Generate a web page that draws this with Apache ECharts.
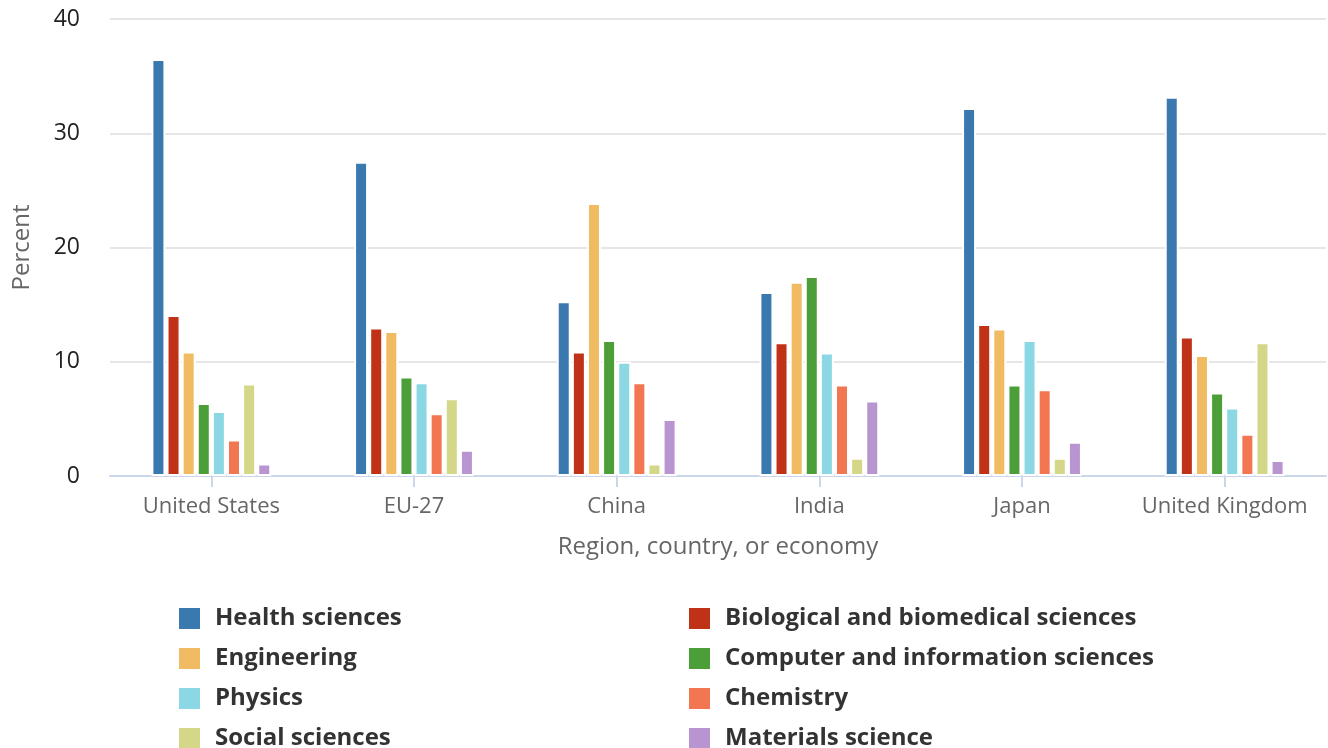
<!DOCTYPE html>
<html>
<head>
<meta charset="utf-8">
<script src="https://cdn.jsdelivr.net/npm/echarts@6/dist/echarts.min.js"></script>
<style>
html,body{margin:0;padding:0;background:#fff;}
#chart{width:1328px;height:748px;}
</style>
</head>
<body>
<div id="chart"></div>
<script>
const categories = ['United States', 'EU-27', 'China', 'India', 'Japan', 'United Kingdom'];
const seriesNames = ['Health sciences', 'Biological and biomedical sciences', 'Engineering', 'Computer and information sciences', 'Physics', 'Chemistry', 'Social sciences', 'Materials science'];
const healthSciences = [36.5, 27.5, 15.3, 16.1, 32.2, 33.2];
const biologicalSciences = [14.1, 13.0, 10.9, 11.7, 13.3, 12.2];
const engineering = [10.9, 12.7, 23.9, 17.0, 12.9, 10.6];
const computerSciences = [6.4, 8.7, 11.9, 17.5, 8.0, 7.3];
const physics = [5.7, 8.2, 10.0, 10.8, 11.9, 6.0];
const chemistry = [3.2, 5.5, 8.2, 8.0, 7.6, 3.7];
const socialSciences = [8.1, 6.8, 1.1, 1.6, 1.6, 11.7];
const materialsScience = [1.1, 2.3, 5.0, 6.6, 3.0, 1.4];
const yTicks = [0, 10, 20, 30, 40];

const colors = ['#3a78b0', '#c03217', '#f0bb62', '#4c9e39', '#8bd8e4', '#f37652', '#d4d688', '#b894d0'];
const values = [healthSciences, biologicalSciences, engineering, computerSciences, physics, chemistry, socialSciences, materialsScience];

const font = '"Open Sans", "Noto Sans", sans-serif';
const chart = echarts.init(document.getElementById('chart'), null, {renderer: 'canvas'});

const series = seriesNames.map((name, i) => ({
  name: name,
  type: 'bar',
  data: values[i],
  barWidth: 14,
  barGap: '8%',
  itemStyle: {color: colors[i], borderColor: '#ffffff', borderWidth: 2},
  emphasis: {disabled: true}
}));

const legendCommon = {
  orient: 'vertical',
  itemWidth: 23,
  itemHeight: 23,
  itemGap: 15,
  icon: 'rect',
  textStyle: {fontFamily: font, fontSize: 24, fontWeight: 'bold', color: '#333333', padding: [0, 0, 0, 9]},
  top: 606,
  height: 200,
  padding: 0,
  selectedMode: false
};

chart.setOption({
  animation: false,
  color: colors,
  grid: {left: 110, right: 2, top: 19, bottom: 272, containLabel: false},
  legend: [
    Object.assign({}, legendCommon, {left: 177, data: [seriesNames[0], seriesNames[2], seriesNames[4], seriesNames[6]]}),
    Object.assign({}, legendCommon, {left: 687, data: [seriesNames[1], seriesNames[3], seriesNames[5], seriesNames[7]]})
  ],
  xAxis: {
    type: 'category',
    data: categories,
    name: 'Region, country, or economy',
    nameLocation: 'middle',
    nameGap: 59,
    nameTextStyle: {fontFamily: font, fontSize: 24, color: '#666666'},
    axisLine: {lineStyle: {color: '#ccd6eb', width: 2}},
    axisTick: {show: true, alignWithLabel: true, interval: 0, length: 11, lineStyle: {color: '#ccd6eb', width: 2}},
    axisLabel: {fontFamily: font, fontSize: 22, color: '#666666', margin: 20, interval: 0},
    splitLine: {show: false}
  },
  yAxis: {
    type: 'value',
    min: yTicks[0],
    max: yTicks[yTicks.length - 1],
    interval: 10,
    name: 'Percent',
    nameLocation: 'middle',
    nameGap: 76,
    nameRotate: 90,
    nameTextStyle: {fontFamily: font, fontSize: 24, color: '#666666'},
    axisLine: {show: false},
    axisTick: {show: false},
    axisLabel: {fontFamily: font, fontSize: 23, color: '#222222', margin: 30},
    splitLine: {lineStyle: {color: '#e6e6e6', width: 2}}
  },
  series: series
});
</script>
</body>
</html>
